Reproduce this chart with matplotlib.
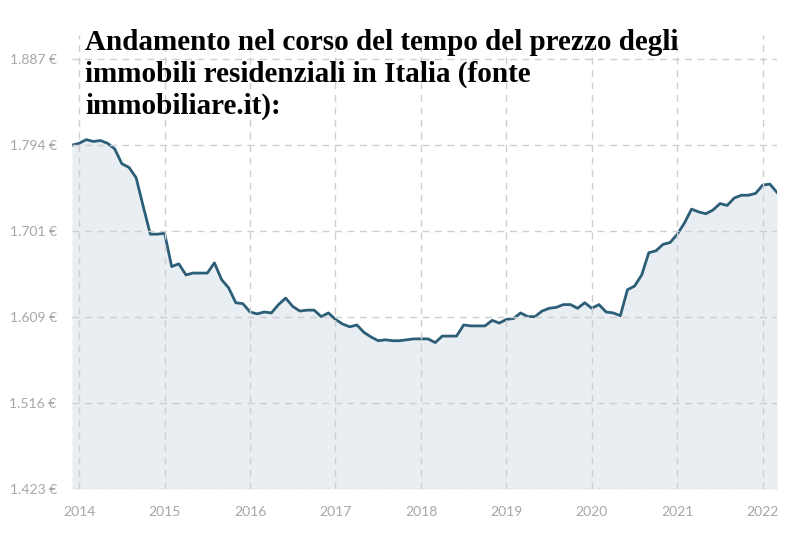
import numpy as np
import matplotlib
matplotlib.use('Agg')
import matplotlib.pyplot as plt

# prezzo medio (euro/m2), mensile da dic 2013 a mar 2022
prices_2013 = [1794]
prices_2014 = [1796, 1800, 1798, 1799, 1796, 1790, 1774, 1770, 1759, 1728, 1698, 1698]
prices_2015 = [1699, 1663, 1666, 1654, 1656, 1656, 1656, 1667, 1649, 1640, 1624, 1623]
prices_2016 = [1614, 1612, 1614, 1613, 1622, 1629, 1620, 1615, 1616, 1616, 1609, 1613]
prices_2017 = [1606, 1601, 1598, 1600, 1592, 1587, 1583, 1584, 1583, 1583, 1584, 1585]
prices_2018 = [1585, 1585, 1581, 1588, 1588, 1588, 1600, 1599, 1599, 1599, 1605, 1602]
prices_2019 = [1606, 1607, 1613, 1609, 1609, 1615, 1618, 1619, 1622, 1622, 1618, 1624]
prices_2020 = [1618, 1622, 1614, 1613, 1610, 1638, 1642, 1654, 1678, 1680, 1687, 1689]
prices_2021 = [1698, 1710, 1725, 1722, 1720, 1724, 1731, 1729, 1737, 1740, 1740, 1742]
prices_2022 = [1751, 1752, 1743]

prices = (prices_2013 + prices_2014 + prices_2015 + prices_2016 + prices_2017
          + prices_2018 + prices_2019 + prices_2020 + prices_2021 + prices_2022)
# mesi come frazione d'anno, primo punto = dicembre 2013
t = 2013 + 11/12 + np.arange(len(prices)) / 12

years = list(range(2014, 2023))
y_ticks = np.linspace(1423, 1887, 6)
y_labels = [f"{v:,.0f} €".replace(",", ".") for v in y_ticks]

title = ("Andamento nel corso del tempo del prezzo degli\n"
         "immobili residenziali in Italia (fonte\n"
         "immobiliare.it):")

fig = plt.figure(figsize=(8, 5.34), dpi=100)
ax = fig.add_axes([72/800, 1 - 489/534, 705/800, 454/534])

ax.fill_between(t, prices, 1423, color='#e9eef3', lw=0)
ax.plot(t, prices, color='#2c5e78', lw=2.0, solid_joinstyle='round')

ax.set_xlim(t[0], t[-1])
ax.set_ylim(1423, 1423 + 454 / (430 / 464))
ax.set_xticks(years)
ax.set_xticklabels([str(y) for y in years])
ax.set_yticks(y_ticks)
ax.set_yticklabels(y_labels)

ax.grid(True, color='#cfcfcf', lw=1, ls=(0, (5, 4)))
ax.set_axisbelow(False)
for s in ax.spines.values():
    s.set_visible(False)
ax.tick_params(length=0, colors='#a6a6a6', labelsize=10)
ax.tick_params(axis='x', pad=12)
ax.tick_params(axis='y', pad=11)
for lab in ax.get_xticklabels() + ax.get_yticklabels():
    lab.set_fontfamily('Lato')

fig.text(85/800, 1 - 29/534, title, fontfamily='Liberation Serif',
         fontweight='bold', fontsize=21, color='black', va='top',
         ha='left', linespacing=1.23)

fig.savefig('out.png', dpi=100)
